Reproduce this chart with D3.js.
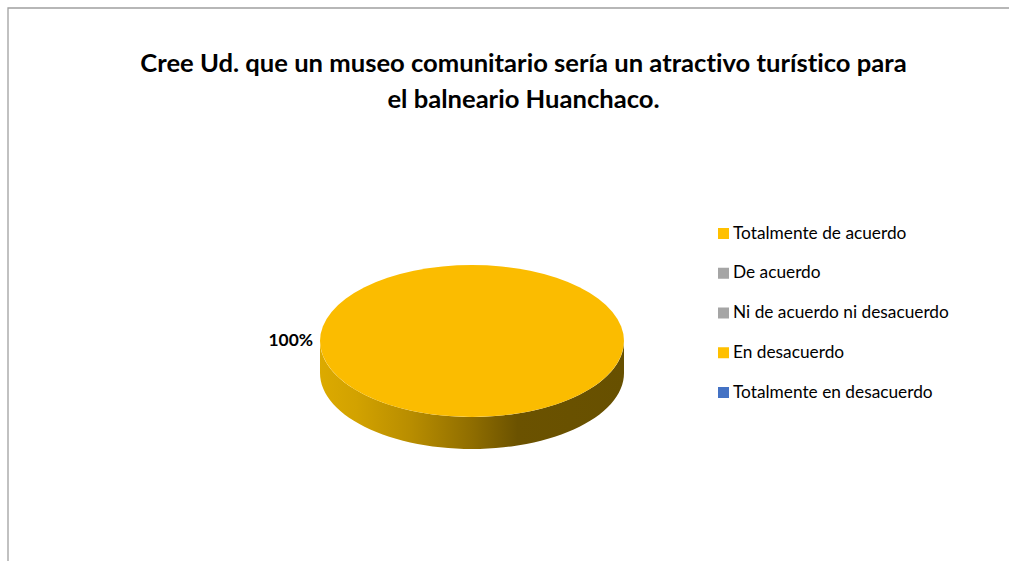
<!DOCTYPE html>
<html><head><meta charset="utf-8">
<script src="https://cdn.jsdelivr.net/npm/d3@7"></script>
<style>html,body{margin:0;padding:0;background:#fff}svg{display:block}text{font-family:Lato,"Open Sans",sans-serif;fill:#000;font-variant-ligatures:none}</style>
</head><body><script>
const titleLines = ["Cree Ud. que un museo comunitario sería un atractivo turístico para", "el balneario Huanchaco."];
const categories = ["Totalmente de acuerdo", "De acuerdo", "Ni de acuerdo ni desacuerdo", "En desacuerdo", "Totalmente en desacuerdo"];
const values = [100, 0, 0, 0, 0];
const colors = ["#FFC000", "#A5A5A5", "#A5A5A5", "#FFC000", "#4472C4"];
const pieTopColor = "#FBBC00";

const W = 1009, H = 561;
const svg = d3.select("body").append("svg").attr("width", W).attr("height", H);

// chart frame (open at right and bottom, as cropped)
svg.append("path").attr("d", d3.line()([[8, H], [8, 8], [W, 8]]))
  .attr("fill", "none").attr("stroke", "#a0a0a0").attr("stroke-width", 1.3);

// title
svg.selectAll("text.title").data(titleLines).join("text").attr("class", "title")
  .attr("x", 523.5).attr("y", (d, i) => 72 + i * 36)
  .attr("text-anchor", "middle").attr("font-size", 25.6).attr("font-weight", 700)
  .text(d => d);

// pie
const cx = 472, cy = 341, rx = 152, ry = 76, depth = 32;
const defs = svg.append("defs");
const grad = defs.append("linearGradient").attr("id", "side")
  .attr("gradientUnits", "userSpaceOnUse").attr("x1", cx - rx).attr("x2", cx + rx).attr("y1", 0).attr("y2", 0);
[[0, "#dcaa00"], [0.12, "#d2a200"], [0.3, "#b88d00"], [0.5, "#8f6d00"], [0.65, "#6b5200"], [1, "#675000"]]
  .forEach(([o, c]) => grad.append("stop").attr("offset", o).attr("stop-color", c));

const pieData = d3.pie().sort(null).value(d => d)(values);
const arc = d3.arc().innerRadius(0).outerRadius(1);

// side wall
const sideLine = d3.line();
const sideAngles = d3.range(0, 181, 3).map(d => d * Math.PI / 180);
const front = sideAngles.map(a => [cx + rx * Math.cos(a), cy + ry * Math.sin(a)]);
const wall = front.concat(front.slice().reverse().map(([x, y]) => [x, y + depth]));
svg.append("path").attr("d", sideLine(wall) + "Z").attr("fill", "url(#side)");

// top
svg.append("g").attr("transform", `translate(${cx},${cy}) scale(${rx},${ry})`)
  .selectAll("path").data(pieData.filter(d => d.value > 0)).join("path")
  .attr("d", arc).attr("fill", pieTopColor);

// data label
svg.append("text").attr("x", 313).attr("y", 346).attr("text-anchor", "end")
  .attr("font-size", 17.4).attr("font-weight", 700).text(values[0] + "%");

// legend
const ly = d3.scalePoint().domain(categories).range([233, 392]);
const leg = svg.selectAll("g.leg").data(categories).join("g").attr("class", "leg")
  .attr("transform", d => `translate(718,${ly(d)})`);
leg.append("rect").attr("x", 0).attr("y", -5).attr("width", 11).attr("height", 11)
  .attr("fill", (d, i) => colors[i]);
leg.append("text").attr("x", 15).attr("y", 5.5).attr("font-size", 17.3).text(d => d);
</script></body></html>
